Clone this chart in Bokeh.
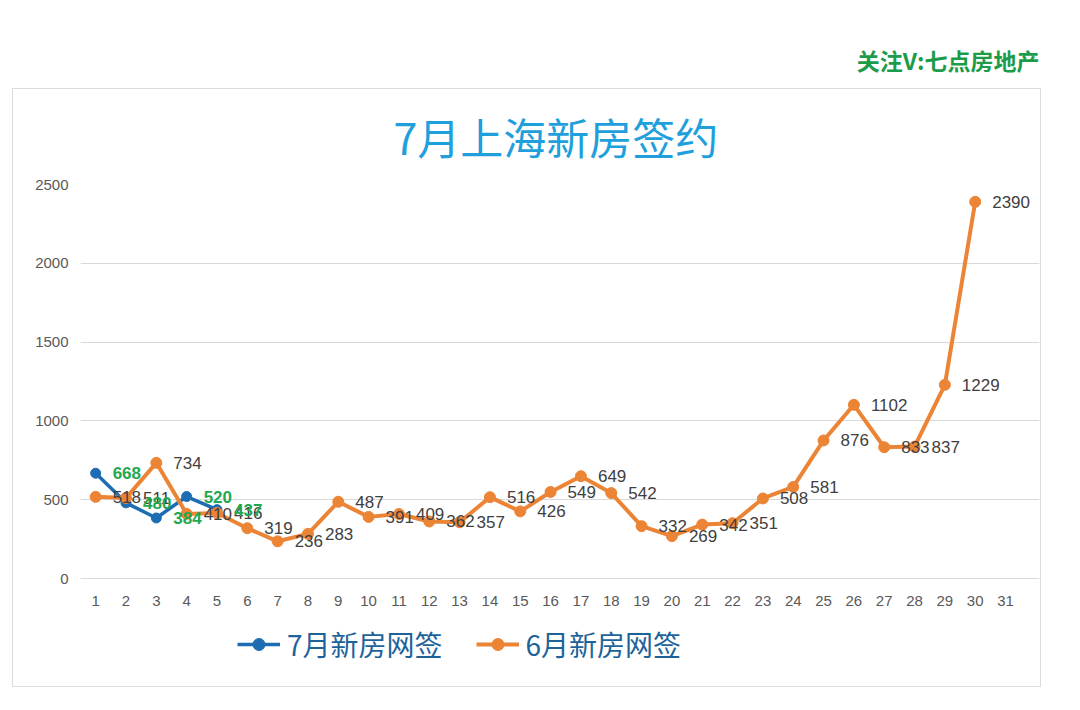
from bokeh.plotting import figure
from bokeh.models import (ColumnDataSource, LabelSet, Legend, LegendItem,
                          Range1d, FixedTicker, Title, InlineStyleSheet)
from bokeh.core.properties import value
from bokeh.embed import file_html
from bokeh.resources import INLINE

# ---- data ----
days_jul = [1, 2, 3, 4, 5]
jul_values = [668, 480, 384, 520, 437]
days_jun = list(range(1, 31))
jun_values = [518, 511, 734, 410, 416, 319, 236, 283, 487, 391,
              409, 362, 357, 516, 426, 549, 649, 542, 332, 269,
              342, 351, 508, 581, 876, 1102, 833, 837, 1229, 2390]
x_ticks = list(range(1, 32))
y_ticks = [0, 500, 1000, 1500, 2000, 2500]
title_text = "7月上海新房签约"
watermark_text = "关注V:七点房地产"
jul_name = "7月新房网签"
jun_name = "6月新房网签"

BLUE = "#1e6db2"
ORANGE = "#ec8436"
GREEN = "#1fa84f"
CJK = "Noto Sans CJK SC"
LAT = "Liberation Sans"

# frame: y=2500 at 176px, y=0 at 570px; frame extends lower to hold the legend
p = figure(width=1064, height=694, output_backend="svg", toolbar_location=None,
           x_range=Range1d(0.5, 32.12), y_range=Range1d(-647.2, 2500),
           min_border_left=72, min_border_right=33, min_border_top=176,
           min_border_bottom=22)
p.margin = (8, 8, 8, 8)
p.outline_line_color = None
p.background_fill_color = "white"
p.border_fill_color = "white"
p.stylesheets = [InlineStyleSheet(css=(
    ":host { position: relative; }\n"
    ":host::after { content: ''; position: absolute; left: 4px; top: 80px; "
    "width: 1029px; height: 599px; border: 1.5px solid #dcdcdc; "
    "box-sizing: border-box; pointer-events: none; }"))]

# outermost title: watermark
p.title.text = watermark_text
p.title.align = "right"
p.title.text_font = CJK
p.title.text_font_size = "23px"
p.title.text_font_style = "bold"
p.title.text_color = "#1c9c4a"
p.title.standoff = 17

main_title = Title(text=title_text, align="left", text_font=CJK,
                   text_font_size="43px", text_font_style="normal",
                   text_color="#1fa0dc", standoff=35, offset=313)
p.add_layout(main_title, "above")

p.xaxis.ticker = FixedTicker(ticks=x_ticks)
p.yaxis.ticker = FixedTicker(ticks=y_ticks)
p.xaxis.fixed_location = 0
p.xaxis.bounds = (0.5, 31.5)
p.xgrid.grid_line_color = None
p.ygrid.grid_line_color = "#d9d9d9"
p.ygrid.grid_line_width = 1
p.ygrid.bounds = (0.5, 31.5)
for ax in (p.xaxis, p.yaxis):
    ax.major_tick_line_color = None
    ax.minor_tick_line_color = None
    ax.major_tick_out = 0
    ax.major_label_text_font = LAT
    ax.major_label_text_font_size = "15px"
    ax.major_label_text_color = "#595959"
p.yaxis.axis_line_color = None
p.xaxis.axis_line_color = "#d9d9d9"
p.yaxis.major_label_standoff = 12
p.xaxis.major_label_standoff = 17

src_jul = ColumnDataSource(dict(x=days_jul, y=jul_values, t=[str(v) for v in jul_values]))
src_jun = ColumnDataSource(dict(x=days_jun, y=jun_values, t=[str(v) for v in jun_values]))

l1 = p.line("x", "y", source=src_jul, line_color=BLUE, line_width=3.5)
c1 = p.scatter("x", "y", source=src_jul, size=10, fill_color=BLUE, line_color=BLUE)
l2 = p.line("x", "y", source=src_jun, line_color=ORANGE, line_width=4)
c2 = p.scatter("x", "y", source=src_jun, size=11, fill_color=ORANGE, line_color=ORANGE)

p.add_layout(LabelSet(x="x", y="y", text="t", source=src_jun, x_offset=17,
                      text_align="left", text_baseline="middle",
                      text_font=value(LAT), text_font_size="17px",
                      text_color="#404040"))
p.add_layout(LabelSet(x="x", y="y", text="t", source=src_jul, x_offset=17,
                      text_align="left", text_baseline="middle",
                      text_font=value(LAT), text_font_size="17px",
                      text_font_style="bold", text_color=GREEN))

legend = Legend(items=[LegendItem(label=jul_name, renderers=[l1, c1]),
                       LegendItem(label=jun_name, renderers=[l2, c2])],
                location=(157, 16), orientation="horizontal",
                padding=0, margin=0, spacing=33, label_standoff=7,
                glyph_width=43, glyph_height=30, label_height=30,
                label_text_font=CJK, label_text_font_size="28px",
                label_text_color="#1d6399", border_line_color=None,
                background_fill_alpha=0)
p.add_layout(legend, "center")

open("out.html", "w").write(file_html(p, INLINE))
